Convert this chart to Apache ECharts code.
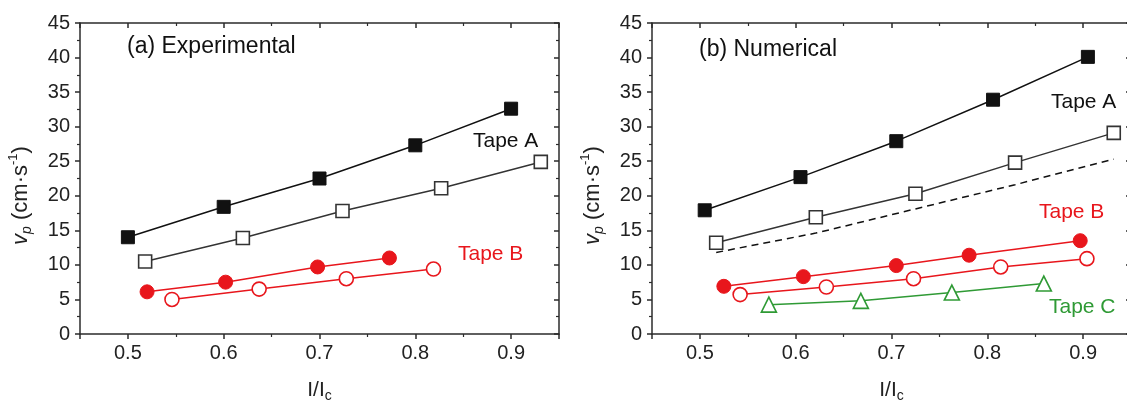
<!DOCTYPE html>
<html>
<head>
<meta charset="utf-8">
<script src="https://cdn.jsdelivr.net/npm/echarts@6/dist/echarts.min.js"></script>
<style>
html, body { margin: 0; padding: 0; background: #fff; }
#chart { width: 1127px; height: 401px; }
</style>
</head>
<body>
<div id="chart"></div>
<script>
// (a) experimental, [I/Ic, vp]
const expTapeAClosed = [[0.5, 14.0], [0.6, 18.4], [0.7, 22.5], [0.8, 27.3], [0.9, 32.6]];
const expTapeAOpen = [[0.518, 10.5], [0.62, 13.9], [0.724, 17.8], [0.827, 21.1], [0.931, 24.9]];
const expTapeBClosed = [[0.52, 6.1], [0.602, 7.5], [0.698, 9.7], [0.773, 11.0]];
const expTapeBOpen = [[0.546, 5.0], [0.637, 6.5], [0.728, 8.0], [0.819, 9.4]];
// (b) numerical
const numTapeAClosed = [[0.505, 17.9], [0.605, 22.7], [0.705, 27.9], [0.806, 33.9], [0.905, 40.1]];
const numTapeAOpen = [[0.517, 13.2], [0.621, 16.9], [0.725, 20.3], [0.829, 24.8], [0.932, 29.1]];
const numTapeADashed = [[0.517, 11.8], [0.621, 14.6], [0.725, 18.1], [0.829, 21.6], [0.932, 25.3]];
const numTapeBClosed = [[0.525, 6.9], [0.608, 8.3], [0.705, 9.9], [0.781, 11.4], [0.897, 13.5]];
const numTapeBOpen = [[0.542, 5.7], [0.632, 6.8], [0.723, 8.0], [0.814, 9.7], [0.904, 10.9]];
const numTapeC = [[0.572, 4.25], [0.668, 4.8], [0.763, 6.0], [0.859, 7.3]];

const xRange = [0.45, 0.95];
const yTicks = [0, 45, 5];

const FONT = 'Liberation Sans, Arial, sans-serif';
const AXIS = '#2b2b2b';
const RED = '#e8161c';
const GREEN = '#2f9a35';

const chart = echarts.init(document.getElementById('chart'));

// main x axis (bottom, labelled) + mirror (top)
function xAxes(grid) {
    return [{
        type: 'value', gridIndex: grid, position: 'bottom',
        min: xRange[0], max: xRange[1], splitNumber: 5,
        name: '{n|I/I}{s|c}', nameLocation: 'middle', nameGap: 43,
        nameTextStyle: {
            rich: {
                n: {fontSize: 21, fontFamily: FONT, color: '#222', lineHeight: 26},
                s: {fontSize: 14, fontFamily: FONT, color: '#222', lineHeight: 14, verticalAlign: 'bottom'}
            }
        },
        axisLine: {onZero: false, lineStyle: {color: AXIS, width: 1.5}},
        axisTick: {inside: false, length: 5, lineStyle: {color: AXIS, width: 1.5}},
        minorTick: {show: true, splitNumber: 2, length: 3, lineStyle: {color: AXIS, width: 1.2}},
        axisLabel: {
            fontSize: 20, fontFamily: FONT, color: '#222', margin: 9,
            showMinLabel: false, showMaxLabel: false,
            formatter: v => v.toFixed(1)
        },
        splitLine: {show: false}
    }, {
        type: 'value', gridIndex: grid, position: 'top',
        min: xRange[0], max: xRange[1], splitNumber: 5,
        axisLine: {onZero: false, lineStyle: {color: AXIS, width: 1.5}},
        axisTick: {inside: true, length: 5, lineStyle: {color: AXIS, width: 1.5}},
        minorTick: {show: true, splitNumber: 2, length: 3, lineStyle: {color: AXIS, width: 1.2}},
        axisLabel: {show: false},
        splitLine: {show: false}
    }];
}

function yAxes(grid) {
    return [{
        type: 'value', gridIndex: grid, position: 'left',
        min: yTicks[0], max: yTicks[1], interval: yTicks[2],
        name: '{i|v}{s|p}{n| (cm·s}{u|-1}{n|)}', nameLocation: 'middle', nameRotate: 90, nameGap: 46,
        nameTextStyle: {
            padding: [0, 34, 0, 0],
            rich: {
                i: {fontSize: 22, fontFamily: FONT, fontStyle: 'italic', color: '#222', lineHeight: 27},
                n: {fontSize: 22, fontFamily: FONT, color: '#222', lineHeight: 27},
                s: {fontSize: 14, fontFamily: FONT, fontStyle: 'italic', color: '#222', lineHeight: 14, verticalAlign: 'bottom'},
                u: {fontSize: 13, fontFamily: FONT, color: '#222', lineHeight: 13, verticalAlign: 'top'}
            }
        },
        axisLine: {onZero: false, lineStyle: {color: AXIS, width: 1.5}},
        axisTick: {inside: false, length: 5, lineStyle: {color: AXIS, width: 1.5}},
        minorTick: {show: true, splitNumber: 2, length: 3, lineStyle: {color: AXIS, width: 1.2}},
        axisLabel: {fontSize: 20, fontFamily: FONT, color: '#222', margin: 10},
        splitLine: {show: false}
    }, {
        type: 'value', gridIndex: grid, position: 'right',
        min: yTicks[0], max: yTicks[1], interval: yTicks[2],
        axisLine: {onZero: false, lineStyle: {color: AXIS, width: 1.5}},
        axisTick: {inside: true, length: 5, lineStyle: {color: AXIS, width: 1.5}},
        minorTick: {show: true, splitNumber: 2, length: 3, lineStyle: {color: AXIS, width: 1.2}},
        axisLabel: {show: false},
        splitLine: {show: false}
    }];
}

// grid 0 -> x axes 0,1 / y axes 0,1 ; grid 1 -> x axes 2,3 / y axes 2,3
function line(grid, data, color, symbol, size, open, dashed) {
    return {
        type: 'line', xAxisIndex: grid * 2, yAxisIndex: grid * 2,
        data: data,
        symbol: dashed ? 'none' : symbol,
        symbolSize: size,
        lineStyle: {color: color, width: 1.5, type: dashed ? [7, 5] : 'solid'},
        itemStyle: open
            ? {color: '#fff', borderColor: color, borderWidth: 1.6}
            : {color: color, borderColor: color, borderWidth: 1},
        z: dashed ? 1 : 3,
        silent: true
    };
}

function label(x, y, text, color, size) {
    return {
        type: 'text', x: x, y: y,
        style: {text: text, fill: color, fontSize: size, fontFamily: FONT, align: 'left', verticalAlign: 'middle'}
    };
}

const option = {
    animation: false,
    backgroundColor: '#fff',
    grid: [
        {left: 80, top: 23, width: 479, height: 311, outerBoundsMode: 'none'},
        {left: 652, top: 23, width: 479, height: 311, outerBoundsMode: 'none'}
    ],
    xAxis: [...xAxes(0), ...xAxes(1)],
    yAxis: [...yAxes(0), ...yAxes(1)],
    series: [
        line(0, expTapeAClosed, '#111', 'rect', 13, false),
        line(0, expTapeAOpen, '#333', 'rect', 13, true),
        line(0, expTapeBClosed, RED, 'circle', 14, false),
        line(0, expTapeBOpen, RED, 'circle', 14, true),
        line(1, numTapeAClosed, '#111', 'rect', 13, false),
        line(1, numTapeAOpen, '#333', 'rect', 13, true),
        line(1, numTapeADashed, '#111', 'none', 0, false, true),
        line(1, numTapeBClosed, RED, 'circle', 14, false),
        line(1, numTapeBOpen, RED, 'circle', 14, true),
        line(1, numTapeC, GREEN, 'triangle', 15, true)
    ],
    graphic: [
        label(127, 47, '(a) Experimental', '#111', 23),
        label(699, 50, '(b) Numerical', '#111', 23),
        label(473, 141, 'Tape A', '#111', 21),
        label(458, 254, 'Tape B', RED, 21),
        label(1051, 102, 'Tape A', '#111', 21),
        label(1039, 212, 'Tape B', RED, 21),
        label(1049, 307, 'Tape C', GREEN, 21)
    ]
};

chart.setOption(option);
</script>
</body>
</html>
